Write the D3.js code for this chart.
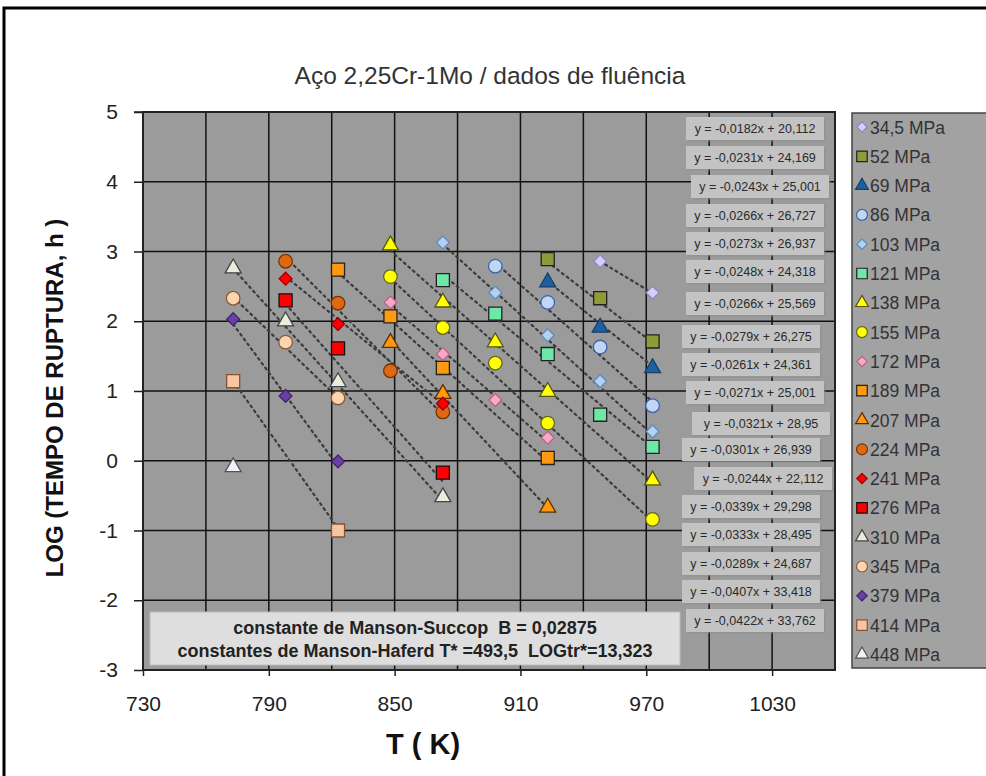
<!DOCTYPE html>
<html>
<head>
<meta charset="utf-8">
<script src="https://cdn.jsdelivr.net/npm/d3@7"></script>
<style>
  body { margin: 0; background: #fff; }
  text { font-family: "Liberation Sans", Arial, sans-serif; }
</style>
</head>
<body>
<div class="chart-area"></div>
<script>
// Creep data, 2.25Cr-1Mo steel: log of rupture time vs temperature, one series per stress

const stressLabels = ["34,5 MPa", "52 MPa", "69 MPa", "86 MPa", "103 MPa", "121 MPa", "138 MPa",
    "155 MPa", "172 MPa", "189 MPa", "207 MPa", "224 MPa", "241 MPa", "276 MPa", "310 MPa",
    "345 MPa", "379 MPa", "414 MPa", "448 MPa"];

// temperatures (K) of each series
const seriesT = [
    [948, 973],
    [923, 948, 973],
    [923, 948, 973],
    [898, 923, 948, 973],
    [873, 898, 923, 948, 973],
    [873, 898, 923, 948, 973],
    [848, 873, 898, 923, 973],
    [848, 873, 898, 923, 973],
    [848, 873, 898, 923],
    [823, 848, 873, 923],
    [848, 873, 923],
    [798, 823, 848, 873],
    [798, 823, 873],
    [798, 823, 873],
    [773, 798, 823, 873],
    [773, 798, 823],
    [773, 798, 823],
    [773, 823],
    [773]
];

// log(rupture time, h) of each series
const seriesLog = [
    [2.86, 2.41],
    [2.89, 2.33, 1.71],
    [2.56, 1.91, 1.33],
    [2.79, 2.27, 1.63, 0.79],
    [3.13, 2.41, 1.80, 1.14, 0.42],
    [2.59, 2.11, 1.53, 0.66, 0.20],
    [3.09, 2.27, 1.70, 0.99, -0.28],
    [2.64, 1.91, 1.40, 0.54, -0.84],
    [2.27, 1.53, 0.87, 0.33],
    [2.74, 2.07, 1.33, 0.04],
    [1.69, 0.96, -0.67],
    [2.86, 2.26, 1.29, 0.70],
    [2.61, 1.96, 0.82],
    [2.30, 1.61, -0.17],
    [2.76, 2.00, 1.13, -0.52],
    [2.33, 1.70, 0.90],
    [2.03, 0.93, -0.01],
    [1.14, -1.00],
    [-0.09]
];

// linear trendlines (y = a*x + b), first 18 series
const slopes = [-0.0182, -0.0231, -0.0243, -0.0266, -0.0273, -0.0248, -0.0266, -0.0279, -0.0261,
    -0.0271, -0.0321, -0.0301, -0.0244, -0.0339, -0.0333, -0.0289, -0.0407, -0.0422];
const intercepts = [20.112, 24.169, 25.001, 26.727, 26.937, 24.318, 25.569, 26.275, 24.361,
    25.001, 28.95, 26.939, 22.112, 29.298, 28.495, 24.687, 33.418, 33.762];

const xTicks = [730, 790, 850, 910, 970, 1030];
const yTicks = [-3, -2, -1, 0, 1, 2, 3, 4, 5];

// marker styles per series
const shapes = ["diamond", "square", "triangle", "circle", "diamond", "square", "triangle", "circle",
    "diamond", "square", "triangle", "circle", "diamond", "square", "triangle", "circle",
    "diamond", "square", "triangle"];
const fills = ["#d4d0f4", "#8f9a3a", "#1f5f9f", "#c2d6f2", "#b4d2f0", "#6ee8a6", "#ffff00",
    "#ffff00", "#f7a9c8", "#ff9a10", "#ff9a10", "#dd6a12", "#ff0000", "#ff0000", "#e8eedc",
    "#fbd4b0", "#6a3fa8", "#f6c6a4", "#f2f0fa"];
const strokes = ["#8c86c8", "#222", "#14406a", "#3a64b0", "#5e8cc0", "#222", "#555511",
    "#666622", "#c0608a", "#222", "#553300", "#7a3300", "#990000", "#111", "#444",
    "#8a5a30", "#3e2270", "#8a5030", "#555"];

const W = 986, H = 776;
const svg = d3.select(".chart-area").append("svg")
    .attr("width", W).attr("height", H);

// outer frame
svg.append("rect").attr("x", 4).attr("y", 8).attr("width", W + 10).attr("height", H + 10)
    .attr("fill", "#fff").attr("stroke", "#000").attr("stroke-width", 3);

const plot = { left: 143, right: 835, top: 112, bottom: 670 };
const x = d3.scaleLinear().domain([730, 1060]).range([plot.left, plot.right]);
const y = d3.scaleLinear().domain([-3, 5]).range([plot.bottom, plot.top]);

// title
svg.append("text").attr("x", 490).attr("y", 84).attr("text-anchor", "middle")
    .attr("font-size", 24.5).attr("fill", "#333")
    .text("Aço 2,25Cr-1Mo / dados de fluência");

// plot background
svg.append("rect").attr("x", plot.left).attr("y", plot.top)
    .attr("width", plot.right - plot.left).attr("height", plot.bottom - plot.top)
    .attr("fill", "#9b9b9b");

// grid
svg.append("g").selectAll("line").data(d3.range(760, 1060, 30)).join("line")
    .attr("x1", d => x(d)).attr("x2", d => x(d))
    .attr("y1", plot.top).attr("y2", plot.bottom)
    .attr("stroke", "#111").attr("stroke-width", 1.5);
svg.append("g").selectAll("line").data(yTicks.slice(1, -1)).join("line")
    .attr("x1", plot.left).attr("x2", plot.right)
    .attr("y1", d => y(d)).attr("y2", d => y(d))
    .attr("stroke", "#111").attr("stroke-width", 1.5);

svg.append("rect").attr("x", plot.left).attr("y", plot.top)
    .attr("width", plot.right - plot.left).attr("height", plot.bottom - plot.top)
    .attr("fill", "none").attr("stroke", "#222").attr("stroke-width", 2);

// axes
const yAxis = svg.append("g").attr("transform", `translate(${plot.left},0)`)
    .call(d3.axisLeft(y).tickValues(yTicks).tickSize(9).tickPadding(16).tickFormat(d => String(d)));
const xAxis = svg.append("g").attr("transform", `translate(0,${plot.bottom})`)
    .call(d3.axisBottom(x).tickValues(xTicks).tickSize(6).tickPadding(20).tickFormat(d => String(d)));
[yAxis, xAxis].forEach(a => {
    a.select(".domain").remove();
    a.selectAll("line").attr("stroke", "#222").attr("stroke-width", 1.5);
    a.selectAll("text").attr("font-size", 21).attr("fill", "#222")
        .attr("font-family", "Liberation Sans, Arial, sans-serif");
});
svg.append("line").attr("x1", plot.left - 9).attr("x2", plot.left).attr("y1", plot.top).attr("y2", plot.top)
    .attr("stroke", "#222").attr("stroke-width", 1.5);

// axis titles
svg.append("text").attr("transform", "translate(63,398) rotate(-90)")
    .attr("text-anchor", "middle").attr("font-size", 24).attr("font-weight", "bold").attr("fill", "#111")
    .text("LOG (TEMPO DE RUPTURA, h )");
svg.append("text").attr("x", 423).attr("y", 754).attr("text-anchor", "middle")
    .attr("font-size", 29).attr("font-weight", "bold").attr("fill", "#111")
    .text("T ( K)");

// trendlines (dotted), over each series' temperature range
const trend = svg.append("g");
slopes.forEach((a, i) => {
    const [t0, t1] = d3.extent(seriesT[i]);
    trend.append("line")
        .attr("x1", x(t0)).attr("y1", y(a * t0 + intercepts[i]))
        .attr("x2", x(t1)).attr("y2", y(a * t1 + intercepts[i]))
        .attr("stroke", "#3c3c3c").attr("stroke-width", 2.2)
        .attr("stroke-dasharray", "2,4").attr("stroke-linecap", "round");
});

// marker symbols
const symType = { diamond: d3.symbolDiamond2, square: d3.symbolSquare, triangle: d3.symbolTriangle, circle: d3.symbolCircle };
const symSize = { diamond: 105, square: 170, triangle: 110, circle: 145 };
function marker(i, scale = 1) {
    return d3.symbol().type(symType[shapes[i]]).size(symSize[shapes[i]] * scale)();
}

const pts = svg.append("g");
seriesT.forEach((ts, i) => {
    pts.selectAll(null).data(ts.map((t, j) => [t, seriesLog[i][j]])).join("path")
        .attr("d", marker(i))
        .attr("transform", d => `translate(${x(d[0])},${y(d[1])})`)
        .attr("fill", fills[i]).attr("stroke", strokes[i]).attr("stroke-width", 1.3);
});

// equation labels
const fmt = v => String(v).replace(".", ",");
const eqY = [129, 158, 187, 216, 244, 272, 304, 337, 365, 393, 424, 450, 479, 507, 535, 564, 592, 621];
const eqX = [686, 686, 691, 686, 686, 686, 686, 682, 682, 686, 692, 682, 694, 682, 682, 682, 682, 686];
const eqG = svg.append("g");
slopes.forEach((a, i) => {
    const g = eqG.append("g").attr("transform", `translate(${eqX[i]},${eqY[i]})`);
    g.append("rect").attr("x", 1.5).attr("y", -10.5).attr("width", 138).attr("height", 23)
        .attr("fill", "#8e8e8e").attr("opacity", 0.6);
    g.append("rect").attr("x", 0).attr("y", -12).attr("width", 138).attr("height", 23)
        .attr("fill", "#c3c3c3");
    g.append("text").attr("x", 69).attr("y", 4).attr("text-anchor", "middle")
        .attr("font-size", 12.5).attr("fill", "#2a2a2a")
        .text(`y = ${fmt(a.toFixed(4))}x + ${fmt(intercepts[i])}`);
});

// constants box
const cb = svg.append("g");
cb.append("rect").attr("x", 150).attr("y", 612).attr("width", 530).attr("height", 53)
    .attr("fill", "#dedede").attr("stroke", "#bdbdbd");
cb.append("text").attr("x", 415).attr("y", 634).attr("text-anchor", "middle")
    .attr("font-family", "Lato, 'Open Sans', sans-serif").attr("font-weight", "bold")
    .attr("font-size", 18).attr("fill", "#222").attr("xml:space", "preserve")
    .text("constante de Manson-Succop  B = 0,02875");
cb.append("text").attr("x", 415).attr("y", 657).attr("text-anchor", "middle")
    .attr("font-family", "Lato, 'Open Sans', sans-serif").attr("font-weight", "bold")
    .attr("font-size", 18).attr("fill", "#222").attr("xml:space", "preserve")
    .text("constantes de Manson-Haferd T* =493,5  LOGtr*=13,323");

// legend
const legend = svg.append("g");
legend.append("rect").attr("x", 852).attr("y", 113).attr("width", 150).attr("height", 555)
    .attr("fill", "#a2a2a2").attr("stroke", "#444").attr("stroke-width", 1.5);
stressLabels.forEach((lab, i) => {
    const ly = 127 + i * 29.3;
    legend.append("path").attr("d", marker(i, 0.65))
        .attr("transform", `translate(862,${ly})`)
        .attr("fill", fills[i]).attr("stroke", strokes[i]).attr("stroke-width", 1.2);
    legend.append("text").attr("x", 870).attr("y", ly + 6.5)
        .attr("font-size", 17.5).attr("fill", "#333").text(lab);
});
</script>
</body>
</html>
